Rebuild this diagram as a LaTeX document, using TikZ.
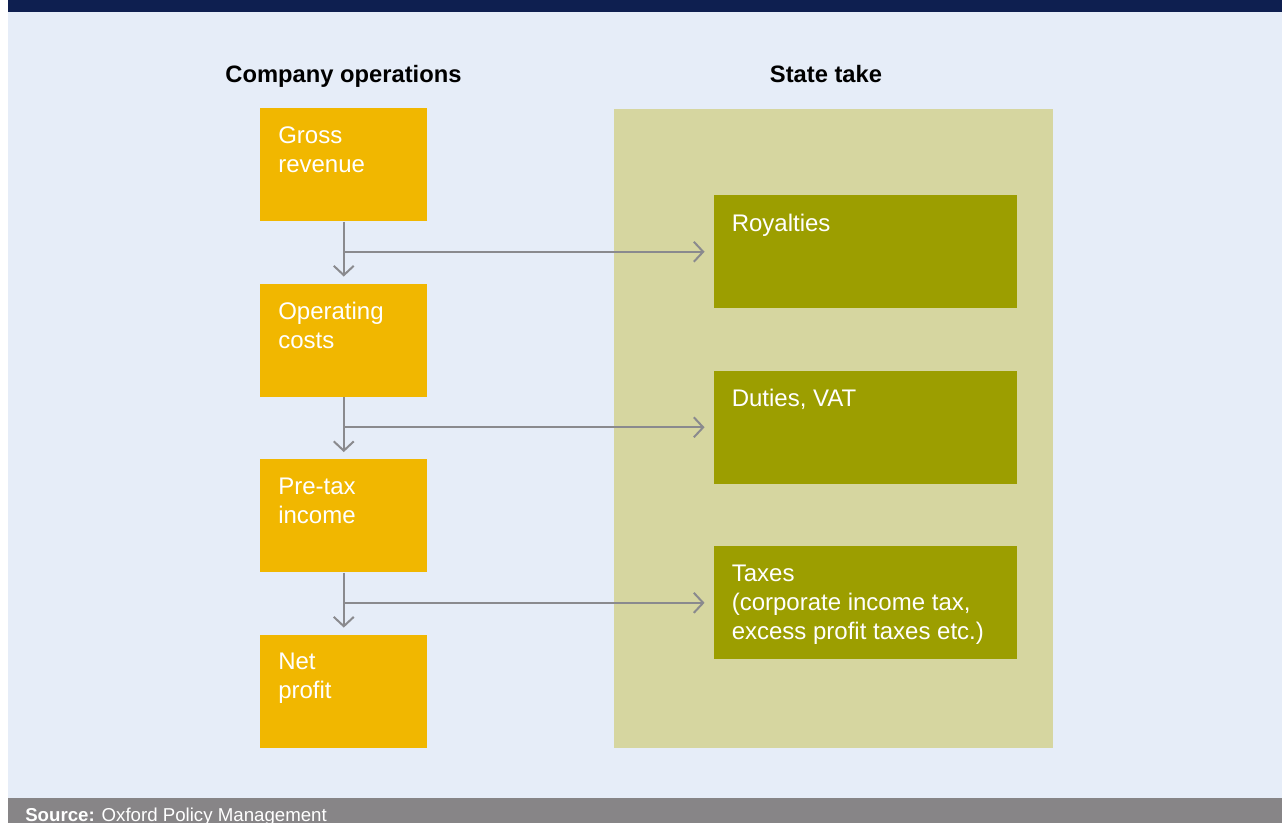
\documentclass[tikz,border=0pt]{standalone}
\usepackage{fontspec}
\setmainfont{Liberation Sans}
\usetikzlibrary{arrows.meta,positioning}

\definecolor{pagebg}{HTML}{E6EDF8}
\definecolor{headbar}{HTML}{0E1F50}
\definecolor{footbar}{HTML}{878587}
\definecolor{opsorange}{HTML}{F1B700}
\definecolor{statepanel}{HTML}{D6D6A0}
\definecolor{takeolive}{HTML}{9C9E00}
\definecolor{flowgrey}{HTML}{8A8A8E}

\begin{document}
\begin{tikzpicture}[x=0.75pt,y=-0.75pt,
  title/.style={anchor=base, font=\fontsize{17.8}{20}\selectfont\bfseries},
  boxbase/.style={rectangle, text=white, anchor=north west,
    inner xsep=13.5pt, inner ysep=13.5pt, minimum height=84.75pt,
    font=\fontsize{18}{21.75}\selectfont, execute at end node={\end{minipage}}},
  company/.style={boxbase, fill=opsorange, minimum width=125.25pt,
    execute at begin node={\begin{minipage}[t][57pt][t]{98.25pt}\raggedright}},
  take/.style={boxbase, fill=takeolive, minimum width=227.25pt,
    execute at begin node={\begin{minipage}[t][57pt][t]{200.25pt}\raggedright}},
  flow/.style={draw=flowgrey, line width=1.5pt, -{Straight Barb[length=7pt,width=15pt]}}]

  \useasboundingbox (0,0) rectangle (1282,823);
  \fill[pagebg] (8,0) rectangle (1282,823);
  \fill[headbar] (8,0) rectangle (1282,12);
  \fill[footbar] (8,798) rectangle (1282,823);
  \node[anchor=base west, inner sep=0pt, text=white, font=\fontsize{14}{16}\selectfont] (source) at (25,821)
    {\textbf{Source:} Oxford Policy Management};

  % state take panel
  \node[fill=statepanel, anchor=north west, minimum width=329.25pt, minimum height=479.25pt,
    inner sep=0pt] (state) at (614,109) {};
  \node[title] (opstitle) at (343.5,82.5) {Company operations};
  \node[title] (statetitle) at (826,82.5) {State take};

  % company column
  \node[company] (gross) at (260,108) {Gross\\revenue};
  \node[company, below=46.5pt of gross] (opcost) {Operating\\costs};
  \node[company, below=46.5pt of opcost] (pretax) {Pre-tax\\income};
  \node[company, below=46.5pt of pretax] (profit) {Net\\profit};

  % state column
  \node[take, below right=65.25pt and 214.5pt of gross.north east] (royal) {Royalties};
  \node[take, below=46.5pt of royal] (duties) {Duties, VAT};
  \node[take, below=46.5pt of duties] (taxes) {Taxes\\(corporate income tax,\\excess profit taxes etc.)};

  \draw[flow, shorten >=5.25pt] (gross) -- (opcost);
  \draw[flow, shorten >=5.25pt] (opcost) -- (pretax);
  \draw[flow, shorten >=5.25pt] (pretax) -- (profit);
  \draw[flow, shorten >=6.75pt] (gross.south |- royal.west) -- (royal.west);
  \draw[flow, shorten >=6.75pt] (opcost.south |- duties.west) -- (duties.west);
  \draw[flow, shorten >=6.75pt] (pretax.south |- taxes.west) -- (taxes.west);
\end{tikzpicture}
\end{document}
